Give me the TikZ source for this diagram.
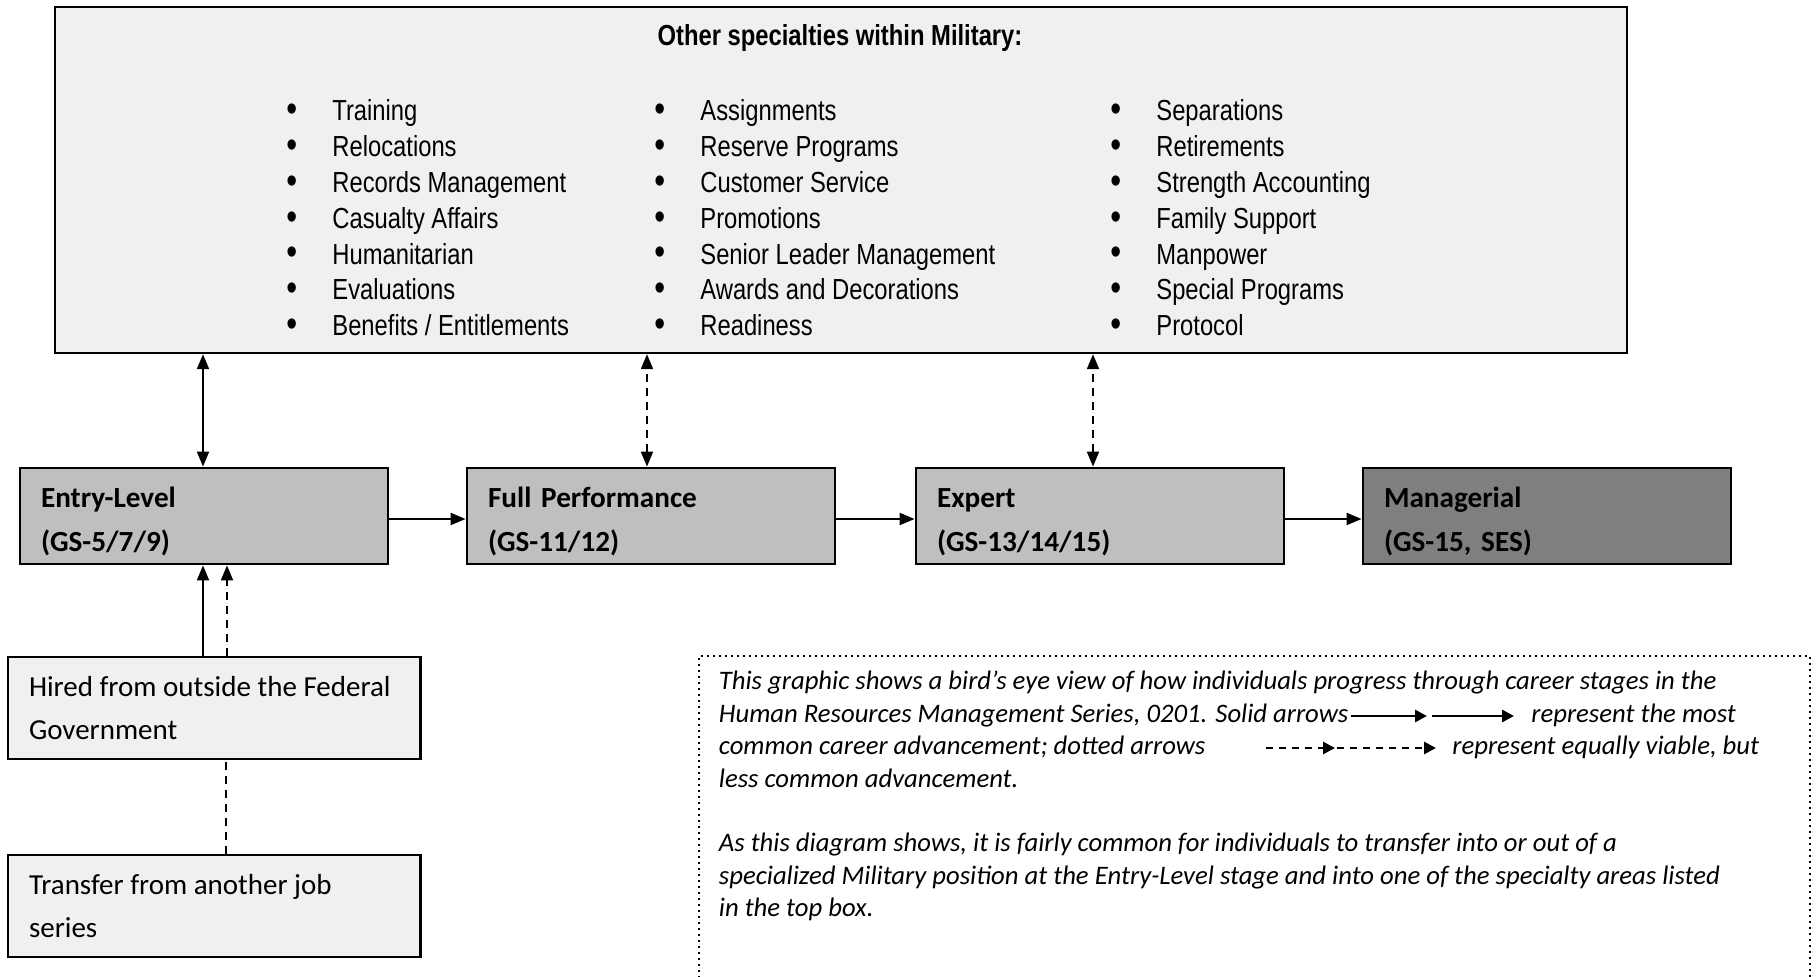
\documentclass[tikz,border=0pt]{standalone}
\usepackage{fontspec}
\setmainfont{Carlito}
\newfontfamily\narrowfont[FakeStretch=0.82]{Liberation Sans}
\usetikzlibrary{arrows.meta}
\definecolor{boxlight}{HTML}{F0F0F0}
\definecolor{stagegray}{HTML}{BFBFBF}
\definecolor{mgrgray}{HTML}{7F7F7F}
\newcommand{\srcline}[1]{\makebox[185.3pt][l]{#1}}
\newcommand{\firstl}{\rule{0pt}{16pt}}
\newcommand{\bul}{\makebox[23pt][l]{\raisebox{-0.4pt}{\scalebox{1.3}{\textbullet}}}}
\begin{document}
\begin{tikzpicture}[x=0.5pt,y=-0.5pt,
  topbox/.style={draw, line width=1.2pt, fill=boxlight, minimum width=786pt, minimum height=173pt, inner sep=0pt},
  stagebox/.style={draw, line width=1.4pt, fill=stagegray, minimum width=184pt, minimum height=48pt,
     text width=163pt, align=left, inner sep=0pt, font=\bfseries\fontsize{14.6}{21.8}\selectfont},
  srcbox/.style={draw, line width=1.3pt, fill=boxlight, minimum width=206.3pt, minimum height=51pt,
     align=left, inner sep=0pt, font=\fontsize{14.5}{21.5}\selectfont},
  itemtext/.style={anchor=base west, inner sep=0pt, font=\narrowfont\fontsize{14.5}{17}\selectfont},
  titletext/.style={anchor=base, inner sep=0pt, font=\narrowfont\bfseries\fontsize{14.5}{17}\selectfont},
  notetext/.style={anchor=base west, inner sep=0pt, font=\itshape\fontsize{13.35}{16}\selectfont},
  conn/.style={line width=1pt, -{Triangle[length=7.5pt,width=6pt]}},
  biconn/.style={line width=1pt, {Triangle[length=7.5pt,width=6pt]}-{Triangle[length=7.5pt,width=6pt]}},
  dashline/.style={dash pattern=on 4pt off 3pt},
  legendarrow/.style={line width=1.4pt, -{Triangle[length=6pt,width=6pt]}},
  legenddash/.style={dash pattern=on 3.5pt off 3pt},
  noteframe/.style={line width=1pt, dotted}
]
\useasboundingbox (0,0) rectangle (1817,977);

% top box
\node[topbox] (top) at (841,180) {};
\node[titletext] (title) at (840,46) {Other specialties within Military:};
\foreach \t [count=\i from 0] in {Training,Relocations,Records Management,Casualty Affairs,Humanitarian,Evaluations,Benefits / Entitlements}
  \node[itemtext] (a\i) at (286,{121+35.8*\i}) {\bul\t};
\foreach \t [count=\i from 0] in {Assignments,Reserve Programs,Customer Service,Promotions,Senior Leader Management,Awards and Decorations,Readiness}
  \node[itemtext] (b\i) at (654,{121+35.8*\i}) {\bul\t};
\foreach \t [count=\i from 0] in {Separations,Retirements,Strength Accounting,Family Support,Manpower,Special Programs,Protocol}
  \node[itemtext] (c\i) at (1110,{121+35.8*\i}) {\bul\t};

% stages
\node[stagebox] (entry) at (204,516) {\firstl Entry-Level\\(GS-5/7/9)};
\node[stagebox] (full) at (651,516) {\firstl Full Performance\\(GS-11/12)};
\node[stagebox] (expert) at (1100,516) {\firstl Expert\\(GS-13/14/15)};
\node[stagebox, fill=mgrgray] (mgr) at (1547,516) {\firstl Managerial\\(GS-15, SES)};

% sources
\node[srcbox] (hired) at (214.3,708) {\srcline{Hired from outside the Federal}\\\srcline{Government}};
\node[srcbox] (transfer) at (214.3,906) {\srcline{Transfer from another job}\\\srcline{series}};

% connectors
\draw[conn] ([yshift=-1.5pt]entry.east) -- ([yshift=-1.5pt]full.west);
\draw[conn] ([yshift=-1.5pt]full.east) -- ([yshift=-1.5pt]expert.west);
\draw[conn] ([yshift=-1.5pt]expert.east) -- ([yshift=-1.5pt]mgr.west);

\draw[biconn] ([xshift=-0.5pt]entry.north) -- ([xshift=-0.5pt]entry.north |- top.south);
\draw[biconn, dashline] ([xshift=-2pt]full.north) -- ([xshift=-2pt]full.north |- top.south);
\draw[biconn, dashline] ([xshift=-3.5pt]expert.north) -- ([xshift=-3.5pt]expert.north |- top.south);

\draw[conn] ([xshift=-0.5pt]entry.south |- hired.north) -- ([xshift=-0.5pt]entry.south);
\draw[conn, dashline] ([xshift=11.5pt]entry.south |- hired.north) -- ([xshift=11.5pt]entry.south);
\draw[line width=1pt, dashline] ([xshift=11pt]entry.south |- transfer.north) -- ([xshift=11pt]entry.south |- hired.south);

% note
\draw[noteframe] (699,990) -- (699,656) -- (1810,656) -- (1810,990);
\node[notetext] (n1) at (718.5,690) {This graphic shows a bird’s eye view of how individuals progress through career stages in the};
\node[notetext] (n2) at (718.5,723) {Human Resources Management Series, 0201. Solid arrows};
\node[notetext] (n2b) at (1531,723) {represent the most};
\node[notetext] (n3) at (718.5,755) {common career advancement; dotted arrows};
\node[notetext] (n3b) at (1452,755) {represent equally viable, but};
\node[notetext] (n4) at (718.5,788) {less common advancement.};
\node[notetext] (n5) at (718.5,852) {As this diagram shows, it is fairly common for individuals to transfer into or out of a};
\node[notetext] (n6) at (718.5,885) {specialized Military position at the Entry-Level stage and into one of the specialty areas listed};
\node[notetext] (n7) at (718.5,917) {in the top box.};

\coordinate (s1) at ([xshift=1pt]n2.base east);
\coordinate (s2) at (1427,716);
\coordinate (s3) at (1432,716);
\coordinate (s4) at (1514,716);
\coordinate (d1) at (1266,748);
\coordinate (d2) at (1335,748);
\coordinate (d3) at (1337,748);
\coordinate (d4) at (1436,748);
\draw[legendarrow] (s1 |- s2) -- (s2);
\draw[legendarrow] (s3) -- (s4);
\draw[legendarrow, legenddash] (d1) -- (d2);
\draw[legendarrow, legenddash] (d3) -- (d4);
\end{tikzpicture}
\end{document}
